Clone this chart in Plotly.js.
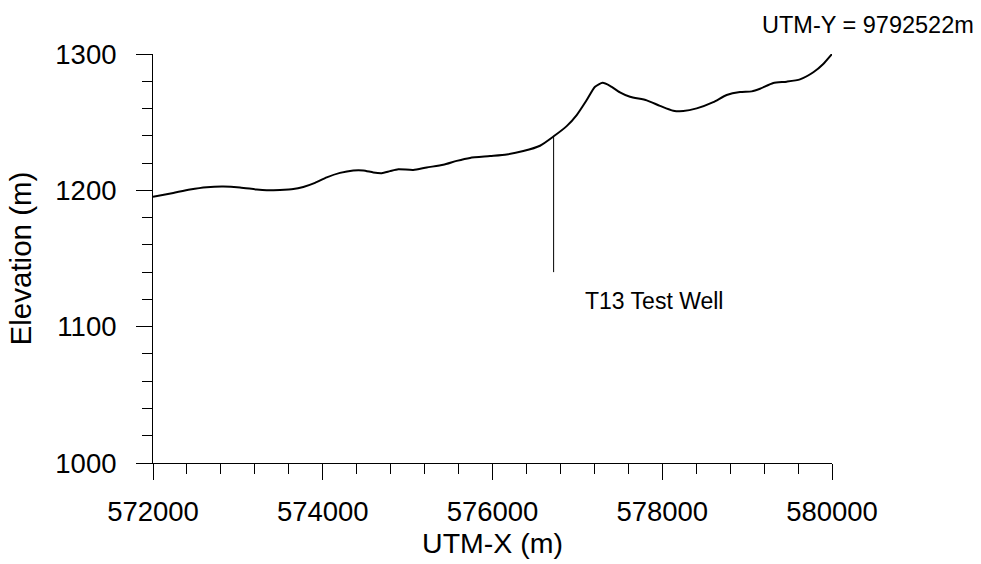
<!DOCTYPE html>
<html>
<head>
<meta charset="utf-8">
<script src="https://cdn.plot.ly/plotly-3.0.1.min.js"></script>
<style>html,body{margin:0;padding:0;background:#fff;}#chart{width:981px;height:564px;}</style>
</head>
<body>
<div id="chart"></div>
<script>
// Profile along UTM-Y = 9792522m
const utmX = [572000, 572239, 572436, 572633, 572828, 573025, 573222, 573340, 573496, 573653,
  573771, 573909, 574047, 574203, 574360, 574478, 574596, 574695, 574792, 574890,
  575067, 575225, 575420, 575578, 575735, 575971, 576167, 576363, 576560, 576725,
  576874, 576992, 577110, 577208, 577298, 577384, 577502, 577620, 577817, 577973,
  578130, 578248, 578406, 578601, 578759, 578916, 579054, 579152, 579308, 579466,
  579623, 579780, 579897, 580000];
const elevation = [1195.2, 1198.1, 1200.6, 1202.3, 1202.8, 1202.1, 1200.6, 1200.1, 1200.3, 1200.9,
  1202.5, 1205.5, 1209.5, 1212.8, 1214.6, 1214.6, 1213.1, 1212.6, 1214.1, 1215.5,
  1215.0, 1216.8, 1218.7, 1221.6, 1223.8, 1225.1, 1226.3, 1228.8, 1232.7, 1239.8,
  1247.1, 1255.2, 1266.2, 1276.0, 1278.9, 1276.7, 1271.9, 1268.6, 1266.0, 1262.0,
  1258.4, 1258.1, 1260.1, 1264.7, 1269.9, 1272.1, 1272.6, 1274.5, 1278.7, 1279.7,
  1281.4, 1286.6, 1292.7, 1300.0];
const wellName = "T13 Test Well";
const wellX = [576720, 576720];
const wellY = [1140, 1239.5];
const profileLabel = "UTM-Y = 9792522m";

const FONT = "Liberation Sans, Arial, sans-serif";

const traces = [
  {x: utmX, y: elevation, type: "scatter", mode: "lines",
   line: {color: "#000", width: 2, shape: "spline", smoothing: 0.6}, hoverinfo: "skip"},
  {x: wellX, y: wellY, type: "scatter", mode: "lines",
   line: {color: "#000", width: 1}, hoverinfo: "skip"}
];

const layout = {
  width: 981, height: 564,
  margin: {l: 153, r: 149, t: 54, b: 101, pad: 0},
  paper_bgcolor: "#fff", plot_bgcolor: "#fff",
  showlegend: false,
  font: {family: FONT, color: "#000"},
  xaxis: {
    range: [572000, 580000], dtick: 2000, tick0: 572000,
    showgrid: false, zeroline: false, showline: true, linecolor: "#000", linewidth: 1,
    ticks: "outside", ticklen: 16, tickcolor: "#000", tickwidth: 1,
    minor: {dtick: 400, ticks: "outside", ticklen: 10, tickcolor: "#000", tickwidth: 1, showgrid: false},
    tickformat: "d", separatethousands: false,
    tickfont: {family: FONT, size: 27.5, color: "#000"},
    ticklabelstandoff: 8,
    title: {text: "UTM-X (m)", font: {family: FONT, size: 28.5, color: "#000"}, standoff: 2}
  },
  yaxis: {
    range: [1000, 1300], dtick: 100, tick0: 1000,
    showgrid: false, zeroline: false, showline: true, linecolor: "#000", linewidth: 1,
    ticks: "outside", ticklen: 16, tickcolor: "#000", tickwidth: 1,
    minor: {dtick: 20, ticks: "outside", ticklen: 10, tickcolor: "#000", tickwidth: 1, showgrid: false},
    tickfont: {family: FONT, size: 27.5, color: "#000"},
    ticklabelstandoff: 14,
    title: {text: "Elevation (m)", font: {family: FONT, size: 29.5, color: "#000"}, standoff: 14}
  },
  annotations: [
    {x: 577066, y: 1118.6, xref: "x", yref: "y", text: wellName, showarrow: false,
     xanchor: "left", yanchor: "middle", font: {family: FONT, size: 23, color: "#000"}},
    {x: 1.053, y: 1.071, xref: "paper", yref: "paper", text: profileLabel, showarrow: false,
     xanchor: "center", yanchor: "middle", font: {family: FONT, size: 23.5, color: "#000"}}
  ]
};

Plotly.newPlot("chart", traces, layout, {displayModeBar: false, staticPlot: true});
</script>
</body>
</html>
